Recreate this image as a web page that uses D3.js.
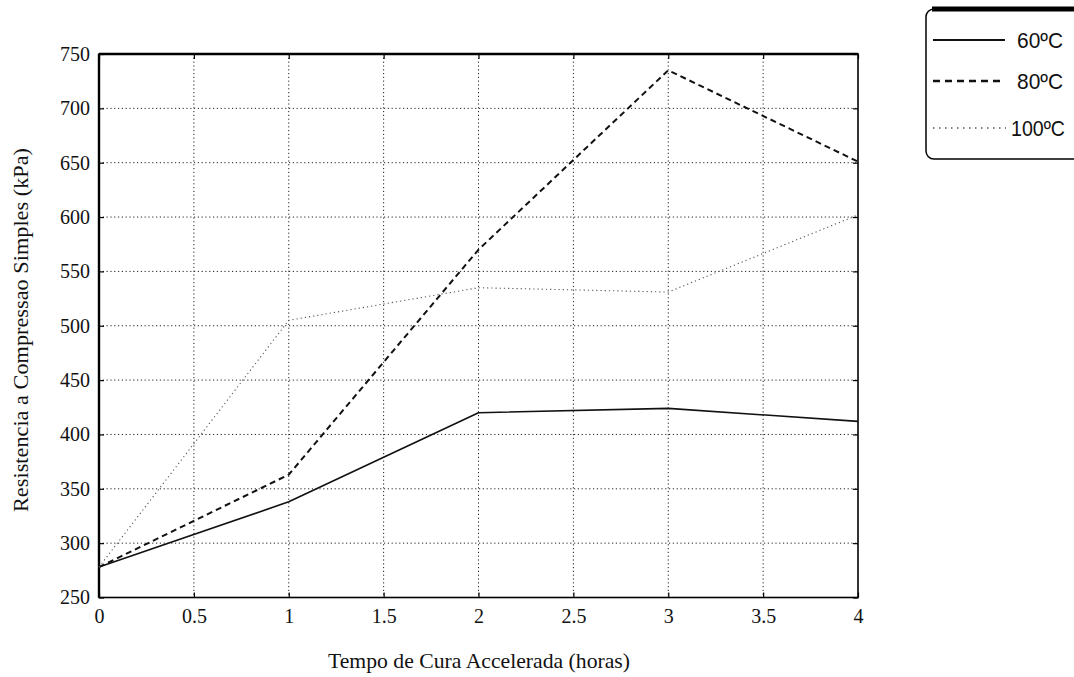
<!DOCTYPE html>
<html>
<head>
<meta charset="utf-8">
<script src="https://cdn.jsdelivr.net/npm/d3@7"></script>
<style>
  html, body { margin: 0; padding: 0; background: #fff; }
  svg { display: block; }
</style>
</head>
<body>
<svg id="chart" width="1074" height="677"></svg>
<script>
// Curing time (hours) and unconfined compressive strength (kPa) per curing temperature
const hours = [0, 1, 2, 3, 4];
const temp60 = [278, 338, 420, 424, 412];
const temp80 = [278, 363, 570, 735, 651];
const temp100 = [278, 505, 535, 531, 602];
const seriesNames = ["60ºC", "80ºC", "100ºC"];
const xTicks = [0, 0.5, 1, 1.5, 2, 2.5, 3, 3.5, 4];
const xTickLabels = ["0", "0.5", "1", "1.5", "2", "2.5", "3", "3.5", "4"];
const yTicks = [250, 300, 350, 400, 450, 500, 550, 600, 650, 700, 750];

const svg = d3.select("#chart");
const plot = { left: 99, right: 858, top: 54, bottom: 597.5 };

const x = d3.scaleLinear().domain([0, 4]).range([plot.left, plot.right]);
const y = d3.scaleLinear().domain([250, 750]).range([plot.bottom, plot.top]);

const serif = "'Liberation Serif', 'Times New Roman', serif";

// Dotted grid
const grid = svg.append("g").attr("stroke", "#222").attr("stroke-width", 1)
  .attr("stroke-dasharray", "1.2,2.6");
grid.selectAll("line.gx").data(xTicks.slice(1, -1)).join("line")
  .attr("x1", d => x(d)).attr("x2", d => x(d))
  .attr("y1", plot.top).attr("y2", plot.bottom);
grid.selectAll("line.gy").data(yTicks.slice(1, -1)).join("line")
  .attr("x1", plot.left).attr("x2", plot.right)
  .attr("y1", d => y(d)).attr("y2", d => y(d));

// Axes with inward ticks
const xAxis = svg.append("g").attr("transform", `translate(0,${plot.bottom})`)
  .call(d3.axisBottom(x).tickValues(xTicks).tickSizeInner(-5).tickSizeOuter(0)
    .tickPadding(10).tickFormat((d, i) => xTickLabels[i]));
const yAxis = svg.append("g").attr("transform", `translate(${plot.left},0)`)
  .call(d3.axisLeft(y).tickValues(yTicks).tickSizeInner(-5).tickSizeOuter(0)
    .tickPadding(9).tickFormat(d3.format("d")));
const xTop = svg.append("g").attr("transform", `translate(0,${plot.top})`)
  .call(d3.axisTop(x).tickValues(xTicks).tickSizeInner(-5).tickSizeOuter(0).tickFormat(""));
const yRight = svg.append("g").attr("transform", `translate(${plot.right},0)`)
  .call(d3.axisRight(y).tickValues(yTicks).tickSizeInner(-5).tickSizeOuter(0).tickFormat(""));

[xAxis, yAxis, xTop, yRight].forEach(g => {
  g.select(".domain").remove();
  g.selectAll(".tick line").attr("stroke", "#000").attr("stroke-width", 1.2);
  g.selectAll("text").attr("fill", "#111").attr("font-family", serif).attr("font-size", 20);
});
xAxis.selectAll("text").attr("dy", "0.75em");

// Plot frame
svg.append("rect")
  .attr("x", plot.left).attr("y", plot.top)
  .attr("width", plot.right - plot.left).attr("height", plot.bottom - plot.top)
  .attr("fill", "none").attr("stroke", "#000").attr("stroke-width", 1.6);
svg.append("line").attr("x1", plot.left).attr("x2", plot.left)
  .attr("y1", plot.top).attr("y2", plot.bottom).attr("stroke", "#000").attr("stroke-width", 2.4);
svg.append("line").attr("x1", plot.left).attr("x2", plot.right)
  .attr("y1", plot.top).attr("y2", plot.top).attr("stroke", "#000").attr("stroke-width", 2.4);

// Series lines
const styles = [
  { stroke: "#111", width: 1.6, dash: null },
  { stroke: "#111", width: 2, dash: "6,4" },
  { stroke: "#555", width: 1.1, dash: "1.2,3" }
];
const series = [temp60, temp80, temp100];
const line = d3.line().x((d, i) => x(hours[i])).y(d => y(d));
series.forEach((vals, k) => {
  svg.append("path").datum(vals)
    .attr("d", line)
    .attr("fill", "none")
    .attr("stroke", styles[k].stroke)
    .attr("stroke-width", styles[k].width)
    .attr("stroke-dasharray", styles[k].dash)
    .attr("stroke-linejoin", "round");
});

// Axis titles
svg.append("text")
  .attr("x", 479).attr("y", 668)
  .attr("text-anchor", "middle")
  .attr("font-family", serif).attr("font-size", 21).attr("fill", "#111")
  .attr("textLength", 302).attr("lengthAdjust", "spacingAndGlyphs")
  .text("Tempo de Cura Accelerada (horas)");
svg.append("text")
  .attr("transform", `translate(28,330) rotate(-90)`)
  .attr("text-anchor", "middle")
  .attr("font-family", serif).attr("font-size", 21).attr("fill", "#111")
  .attr("textLength", 364).attr("lengthAdjust", "spacingAndGlyphs")
  .text("Resistencia a Compressao Simples (kPa)");

// Legend
const legend = svg.append("g");
legend.append("rect")
  .attr("x", 926).attr("y", 9).attr("width", 170).attr("height", 150)
  .attr("rx", 8).attr("ry", 8)
  .attr("fill", "#fff").attr("stroke", "#000").attr("stroke-width", 1.5);
legend.append("line").attr("x1", 932).attr("x2", 1074).attr("y1", 9).attr("y2", 9)
  .attr("stroke", "#000").attr("stroke-width", 5);
const legendY = [40, 81, 128];
seriesNames.forEach((name, k) => {
  legend.append("line")
    .attr("x1", 933).attr("x2", k === 2 ? 1006 : 1005)
    .attr("y1", legendY[k]).attr("y2", legendY[k])
    .attr("stroke", styles[k].stroke)
    .attr("stroke-width", k === 2 ? 1.6 : styles[k].width + 0.4)
    .attr("stroke-dasharray", k === 1 ? "7,5" : (k === 2 ? "1.5,4.5" : null));
  legend.append("text")
    .attr("x", k === 2 ? 1011 : 1017).attr("y", legendY[k] + 8)
    .attr("font-family", "'Liberation Sans Narrow', 'Liberation Sans', Arial, sans-serif")
    .attr("font-size", 22).attr("fill", "#111")
    .attr("textLength", k === 2 ? 54 : 46).attr("lengthAdjust", "spacingAndGlyphs")
    .text(name);
});
</script>
</body>
</html>
